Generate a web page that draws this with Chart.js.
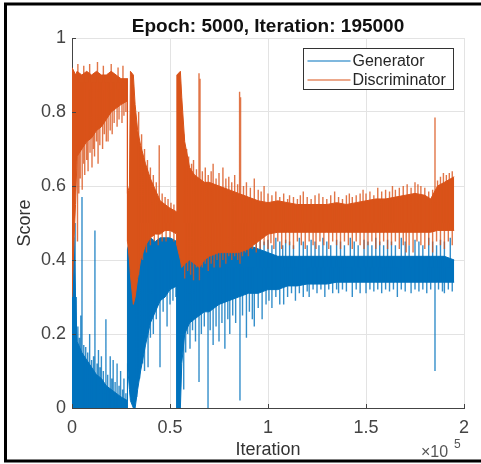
<!DOCTYPE html>
<html>
<head>
<meta charset="utf-8">
<script src="https://cdn.jsdelivr.net/npm/chart.js@4.4.1/dist/chart.umd.min.js"></script>
<style>
  html, body { margin: 0; padding: 0; background: #fff; }
</style>
</head>
<body>
<canvas id="plot" width="481" height="464"></canvas>
<script>
const chartTitle = "Epoch: 5000, Iteration: 195000";
const seriesNames = ["Generator", "Discriminator"];
const seriesColors = ["#0072BD", "#D95319"];
const xTicks = [0, 0.5, 1, 1.5, 2];      // x 10^5
const yTicks = [0, 0.2, 0.4, 0.6, 0.8, 1];

// iteration in thousands where the dense band edges were read off
// (a repeated value marks a sudden jump)
const iterK = [
  0, 1, 1.8, 2.6, 5, 7.5, 10, 12.5, 15, 17.5,
  20, 22.5, 25, 28.3, 28.3, 29.3, 29.8, 31.3, 32.2, 33.5,
  35, 37.5, 40, 42.5, 45, 47.5, 50, 53.5, 53.5, 55.3,
  56, 57.5, 60, 62.5, 65, 67.5, 70, 75, 80, 85,
  90, 95, 100, 105, 110, 115, 120, 125, 130, 135,
  140, 145, 150, 155, 160, 165, 170, 175, 180, 183,
  186.5, 190, 195
];
const discHigh = [
  0.92, 0.91, 0.90, 0.91, 0.90, 0.91, 0.90, 0.91, 0.90, 0.90,
  0.91, 0.90, 0.89, 0.89, 0.58, 0.60, 0.91, 0.90, 0.82, 0.75,
  0.71, 0.66, 0.62, 0.59, 0.56, 0.55, 0.54, 0.53, 0.90, 0.91,
  0.84, 0.72, 0.65, 0.63, 0.62, 0.61, 0.61, 0.60, 0.59, 0.58,
  0.57, 0.56, 0.555, 0.56, 0.555, 0.55, 0.55, 0.55, 0.55, 0.555,
  0.55, 0.555, 0.56, 0.565, 0.565, 0.57, 0.575, 0.58, 0.575, 0.565,
  0.60, 0.61, 0.625
];
const discLow = [
  0.30, 0.45, 0.55, 0.68, 0.70, 0.72, 0.73, 0.75, 0.76, 0.78,
  0.80, 0.81, 0.82, 0.83, 0.45, 0.40, 0.36, 0.28, 0.30, 0.35,
  0.40, 0.44, 0.46, 0.47, 0.47, 0.48, 0.48, 0.47, 0.44, 0.40,
  0.38, 0.39, 0.40, 0.39, 0.38, 0.40, 0.41, 0.42, 0.42, 0.42,
  0.43, 0.45, 0.47, 0.475, 0.475, 0.475, 0.475, 0.475, 0.475, 0.475,
  0.475, 0.475, 0.475, 0.475, 0.475, 0.475, 0.475, 0.475, 0.475, 0.475,
  0.48, 0.48, 0.48
];
const genHigh = [
  0.47, 0.46, 0.30, 0.18, 0.15, 0.13, 0.11, 0.09, 0.08, 0.06,
  0.05, 0.04, 0.03, 0.02, 0.43, 0.45, 0.45, 0.44, 0.45, 0.44,
  0.45, 0.45, 0.46, 0.45, 0.46, 0.46, 0.46, 0.45, 0.44, 0.45,
  0.44, 0.45, 0.45, 0.44, 0.45, 0.44, 0.45, 0.44, 0.45, 0.45,
  0.44, 0.43, 0.42, 0.41, 0.41, 0.41, 0.41, 0.41, 0.41, 0.41,
  0.41, 0.41, 0.41, 0.41, 0.41, 0.41, 0.41, 0.41, 0.41, 0.41,
  0.41, 0.41, 0.40
];
const genLow = [
  0, 0, 0, 0, 0, 0, 0, 0, 0, 0,
  0, 0, 0, 0, 0.12, 0.05, 0.02, 0, 0, 0.05,
  0.10, 0.17, 0.23, 0.26, 0.29, 0.30, 0.32, 0.33, 0, 0,
  0.12, 0.20, 0.23, 0.24, 0.25, 0.26, 0.26, 0.28, 0.29, 0.30,
  0.31, 0.31, 0.32, 0.32, 0.33, 0.33, 0.335, 0.335, 0.335, 0.34,
  0.34, 0.34, 0.34, 0.34, 0.34, 0.34, 0.34, 0.34, 0.34, 0.34,
  0.34, 0.34, 0.34
];

// stray samples sticking out of the bands: [iteration k, from, to]
const discSpikes = [
  // first stretch, streaks below the saturated block
  [2.8, 0.88, 0.45], [3.5, 0.88, 0.58], [4.2, 0.88, 0.62], [5.2, 0.88, 0.59],
  [6, 0.88, 0.66], [6.5, 0.88, 0.63], [7.5, 0.88, 0.67], [8.2, 0.88, 0.64],
  [9.2, 0.88, 0.69], [10.2, 0.88, 0.65], [11, 0.88, 0.70], [11.5, 0.88, 0.68],
  [12.5, 0.88, 0.72], [13.3, 0.88, 0.66], [14.2, 0.88, 0.71], [15.6, 0.88, 0.70],
  [16.5, 0.88, 0.74], [17.5, 0.88, 0.72], [18.4, 0.88, 0.72], [19.5, 0.88, 0.75],
  [20.5, 0.88, 0.74], [21.5, 0.88, 0.77], [23, 0.88, 0.76], [24, 0.88, 0.78],
  [25.5, 0.88, 0.77], [26.5, 0.88, 0.79], [27.5, 0.88, 0.80],
  [3, 0.86, 0.93], [6, 0.86, 0.925], [9, 0.86, 0.93], [13, 0.86, 0.935],
  [16, 0.86, 0.925], [20, 0.86, 0.93], [23.5, 0.86, 0.92], [26, 0.86, 0.925],
  // upper edge after the first collapse
  [34, 0.5, 0.80], [35.5, 0.5, 0.74], [37, 0.5, 0.70], [38.5, 0.5, 0.67],
  [40, 0.5, 0.65], [41.5, 0.5, 0.63], [43, 0.5, 0.61], [44.5, 0.5, 0.71],
  [46, 0.5, 0.58], [47.5, 0.5, 0.57], [49, 0.5, 0.565], [50.5, 0.5, 0.555],
  [52, 0.5, 0.55],
  [57, 0.5, 0.74], [58.5, 0.5, 0.70], [59.5, 0.5, 0.68], [61, 0.5, 0.66],
  [62, 0.5, 0.67], [63.5, 0.5, 0.645], [64.8, 0.5, 0.905], [65.3, 0.5, 0.89],
  [66.5, 0.5, 0.64], [68, 0.5, 0.65], [69.5, 0.5, 0.63], [71, 0.5, 0.64],
  [72, 0.5, 0.66], [73.5, 0.5, 0.62], [75, 0.5, 0.635], [77, 0.5, 0.65],
  [78.5, 0.5, 0.62], [80, 0.5, 0.625], [81.5, 0.5, 0.61], [83, 0.5, 0.63],
  [84.5, 0.5, 0.605], [85.5, 0.5, 0.855], [86, 0.5, 0.84], [87.5, 0.5, 0.60],
  [89, 0.5, 0.61], [91, 0.5, 0.595], [93, 0.5, 0.62], [95, 0.5, 0.59],
  [96.5, 0.5, 0.585], [98, 0.5, 0.60], [100, 0.5, 0.58], [102, 0.5, 0.575],
  [104, 0.5, 0.585], [106, 0.5, 0.57], [108, 0.5, 0.58], [110, 0.5, 0.565],
  [111, 0.5, 0.575], [113, 0.5, 0.57], [115, 0.5, 0.565], [116.5, 0.5, 0.575],
  [118, 0.5, 0.585], [120, 0.5, 0.57], [122, 0.5, 0.565], [124, 0.5, 0.575],
  [126, 0.5, 0.58], [128, 0.5, 0.57], [130, 0.5, 0.565], [132, 0.5, 0.575],
  [134, 0.5, 0.585], [136, 0.5, 0.57], [138, 0.5, 0.565], [140, 0.5, 0.575],
  [141.5, 0.5, 0.58], [143, 0.5, 0.57], [145, 0.5, 0.575], [147, 0.5, 0.58],
  [148.5, 0.5, 0.59], [150, 0.5, 0.58], [152, 0.5, 0.585], [154, 0.5, 0.575],
  [156, 0.5, 0.595], [158, 0.5, 0.585], [160, 0.5, 0.59], [162, 0.5, 0.585],
  [163.5, 0.5, 0.60], [165, 0.5, 0.59], [167, 0.5, 0.595], [169, 0.5, 0.60],
  [171, 0.5, 0.605], [173, 0.5, 0.595], [175, 0.5, 0.61], [176.5, 0.5, 0.605],
  [178, 0.5, 0.60], [180, 0.5, 0.595], [182, 0.5, 0.585], [184, 0.5, 0.59],
  [185.2, 0.5, 0.785], [186.5, 0.5, 0.615], [188, 0.5, 0.625], [189.5, 0.5, 0.635],
  [191, 0.5, 0.63], [192.5, 0.5, 0.635], [194, 0.5, 0.64],
  // lower edge
  [34, 0.5, 0.36], [36, 0.5, 0.40], [38, 0.5, 0.42], [40, 0.5, 0.44],
  [42, 0.5, 0.45], [44, 0.5, 0.44], [46, 0.5, 0.45], [48, 0.5, 0.45],
  [50, 0.5, 0.46], [52, 0.5, 0.45],
  [57.5, 0.5, 0.35], [59, 0.5, 0.37], [60.5, 0.5, 0.36], [62, 0.5, 0.345],
  [63.5, 0.5, 0.38], [65, 0.5, 0.345], [66.5, 0.5, 0.38], [68, 0.5, 0.39],
  [69.5, 0.5, 0.37], [71, 0.5, 0.39], [72.5, 0.5, 0.38], [74, 0.5, 0.40],
  [75.5, 0.5, 0.38], [77, 0.5, 0.40], [78.5, 0.5, 0.39], [80, 0.5, 0.41],
  [81.5, 0.5, 0.40], [83, 0.5, 0.41], [84.5, 0.5, 0.40], [85.7, 0.5, 0.39],
  [87, 0.5, 0.41], [88.5, 0.5, 0.42], [90, 0.5, 0.41], [92, 0.5, 0.43],
  [94, 0.5, 0.42], [96, 0.5, 0.43], [98, 0.5, 0.44], [100, 0.5, 0.43],
  [101.5, 0.5, 0.445], [103, 0.5, 0.43], [105, 0.5, 0.45], [107, 0.5, 0.43],
  [109, 0.5, 0.445], [111, 0.5, 0.44], [113, 0.5, 0.43], [115, 0.5, 0.45],
  [117, 0.5, 0.44], [119, 0.5, 0.43], [121, 0.5, 0.45], [123, 0.5, 0.44],
  [124.5, 0.5, 0.43], [126.5, 0.5, 0.45], [128.5, 0.5, 0.44], [131, 0.5, 0.43],
  [133, 0.5, 0.45], [135, 0.5, 0.44], [137, 0.5, 0.43], [139, 0.5, 0.45],
  [141, 0.5, 0.44], [143, 0.5, 0.43], [145, 0.5, 0.45], [147, 0.5, 0.44],
  [149, 0.5, 0.43], [151, 0.5, 0.44], [153, 0.5, 0.45], [155, 0.5, 0.43],
  [157, 0.5, 0.44], [159, 0.5, 0.45], [161, 0.5, 0.43], [163, 0.5, 0.44],
  [165, 0.5, 0.45], [167, 0.5, 0.43], [169, 0.5, 0.44], [170.5, 0.5, 0.42],
  [172, 0.5, 0.44], [174, 0.5, 0.42], [176, 0.5, 0.45], [178, 0.5, 0.44],
  [180, 0.5, 0.43], [182, 0.5, 0.44], [184, 0.5, 0.42], [186, 0.5, 0.45],
  [188, 0.5, 0.44], [190, 0.5, 0.43], [192, 0.5, 0.45], [194, 0.5, 0.44]
];
const genSpikes = [
  // first stretch, rising out of the floor
  [1.6, 0, 0.50], [2.2, 0, 0.30], [3, 0, 0.22], [3.8, 0, 0.19],
  [4.5, 0, 0.25], [5.1, 0, 0.57], [6, 0, 0.17], [7, 0, 0.165],
  [8, 0, 0.15], [9, 0, 0.20], [10, 0, 0.13], [11, 0, 0.14],
  [11.7, 0, 0.48], [12.8, 0, 0.12], [13.5, 0, 0.157], [14.3, 0, 0.11],
  [15, 0, 0.14], [16, 0, 0.10], [17.3, 0, 0.24], [18.2, 0, 0.09],
  [19.5, 0, 0.14], [20.3, 0, 0.08], [21, 0, 0.13], [22, 0, 0.07],
  [23, 0, 0.12], [24, 0, 0.06], [24.8, 0, 0.10], [25.8, 0, 0.05],
  [26.5, 0, 0.08], [27.5, 0, 0.04],
  // lower edge
  [33, 0.4, 0.03], [34.5, 0.4, 0.08], [36, 0.4, 0.12], [37, 0.4, 0.10],
  [38.8, 0.4, 0.11], [40, 0.4, 0.19], [41.5, 0.4, 0.20], [43, 0.4, 0.24],
  [44.9, 0.4, 0.11], [46.5, 0.4, 0.26], [48.5, 0.4, 0.22], [50, 0.4, 0.28],
  [51.5, 0.4, 0.29], [53, 0.4, 0.30],
  [57, 0.38, 0.05], [58, 0.38, 0.15], [59, 0.38, 0.20], [60.2, 0.38, 0.16],
  [61.5, 0.38, 0.21], [63, 0.38, 0.18], [64.8, 0.38, 0.07], [66, 0.38, 0.20],
  [67.5, 0.38, 0.22], [69.4, 0.38, 0], [70.5, 0.38, 0.21], [72, 0.38, 0.17],
  [73.5, 0.38, 0.22], [75, 0.38, 0.18], [76.5, 0.38, 0.23], [78, 0.38, 0.16],
  [79.5, 0.38, 0.24], [80.5, 0.38, 0.20], [82, 0.38, 0.25], [83.5, 0.38, 0.23],
  [85.7, 0.38, 0.02], [87, 0.38, 0.25], [89, 0.38, 0.19], [90.5, 0.38, 0.26],
  [92, 0.38, 0.24], [93, 0.38, 0.22], [95, 0.38, 0.27], [97, 0.38, 0.24],
  [99, 0.38, 0.28], [100.5, 0.38, 0.29], [102, 0.38, 0.27], [104, 0.38, 0.30],
  [106, 0.38, 0.28], [108, 0.38, 0.28], [110, 0.38, 0.30], [112, 0.38, 0.31],
  [114, 0.38, 0.29], [116, 0.38, 0.31], [118, 0.38, 0.30], [120, 0.38, 0.315],
  [121, 0.38, 0.30], [123, 0.38, 0.32], [125, 0.38, 0.31], [127, 0.38, 0.32],
  [129, 0.38, 0.30], [131, 0.38, 0.32], [133, 0.38, 0.31], [135, 0.38, 0.32],
  [136, 0.38, 0.31], [138, 0.38, 0.32], [140, 0.38, 0.315], [143, 0.38, 0.30],
  [145, 0.38, 0.32], [147, 0.38, 0.31], [150, 0.38, 0.31], [152, 0.38, 0.32],
  [154, 0.38, 0.315], [156, 0.38, 0.32], [158, 0.38, 0.31], [160, 0.38, 0.32],
  [162, 0.38, 0.315], [164, 0.38, 0.32], [166, 0.38, 0.30], [168, 0.38, 0.32],
  [170, 0.38, 0.315], [173, 0.38, 0.31], [175, 0.38, 0.32], [177, 0.38, 0.315],
  [179, 0.38, 0.32], [181, 0.38, 0.31], [183, 0.38, 0.32], [185.2, 0.38, 0.10],
  [187, 0.38, 0.32], [189, 0.38, 0.315], [190, 0.38, 0.31], [192, 0.38, 0.32],
  [194, 0.38, 0.315],
  // upper edge, poking into the gap
  [94, 0.38, 0.45], [96, 0.38, 0.46], [98, 0.38, 0.45], [100, 0.38, 0.455],
  [102, 0.38, 0.44], [104, 0.38, 0.46], [106, 0.38, 0.45], [107.5, 0.38, 0.44],
  [109, 0.38, 0.455], [111, 0.38, 0.45], [113, 0.38, 0.44], [116, 0.38, 0.46],
  [118, 0.38, 0.45], [120, 0.38, 0.44], [122, 0.38, 0.455], [124, 0.38, 0.45],
  [126, 0.38, 0.44], [128, 0.38, 0.46], [130, 0.38, 0.45], [132, 0.38, 0.44],
  [135, 0.38, 0.455], [137, 0.38, 0.45], [139, 0.38, 0.44], [142, 0.38, 0.46],
  [144, 0.38, 0.45], [146, 0.38, 0.44], [149, 0.38, 0.455], [151, 0.38, 0.45],
  [153, 0.38, 0.44], [155, 0.38, 0.46], [157, 0.38, 0.45], [159, 0.38, 0.44],
  [161, 0.38, 0.455], [163, 0.38, 0.45], [165, 0.38, 0.44], [168, 0.38, 0.46],
  [170, 0.38, 0.45], [172, 0.38, 0.44], [175, 0.38, 0.455], [177, 0.38, 0.45],
  [179, 0.38, 0.44], [182, 0.38, 0.46], [184, 0.38, 0.45], [186, 0.38, 0.44],
  [188, 0.38, 0.455], [190, 0.38, 0.45], [193, 0.38, 0.46]
];

const FONT = '"Liberation Sans", Arial, Helvetica, sans-serif';
Chart.defaults.font.family = FONT;

function band(values) {
  return iterK.map((k, i) => ({ x: k * 1000, y: values[i] }));
}

function spikePoints(list) {
  const pts = [];
  list.forEach(([k, a, b]) => {
    pts.push({ x: k * 1000, y: a }, { x: k * 1000, y: b }, { x: k * 1000, y: null });
  });
  return pts;
}

function lineSet(data, color, order, extra) {
  return Object.assign({
    data: data,
    borderColor: color,
    backgroundColor: color,
    borderWidth: 1,
    pointRadius: 0,
    tension: 0,
    order: order,
    fill: false,
  }, extra || {});
}

// title, legend box, exponent and the outer frame
const matlabDecor = {
  id: "matlabDecor",
  afterDraw(chart) {
    const ctx = chart.ctx;
    const area = chart.chartArea;
    ctx.save();

    ctx.fillStyle = "#111";
    ctx.font = "bold 19px " + FONT;
    ctx.textAlign = "center";
    ctx.textBaseline = "alphabetic";
    ctx.fillText(chartTitle, (area.left + area.right) / 2, 32);

    // inward tick marks
    ctx.strokeStyle = "#444";
    ctx.lineWidth = 1;
    const xs = chart.scales.x, ys = chart.scales.y;
    xTicks.forEach((t) => {
      const px = Math.round(xs.getPixelForValue(t * 1e5)) + 0.5;
      ctx.beginPath();
      ctx.moveTo(px, area.bottom);
      ctx.lineTo(px, area.bottom - 4);
      ctx.stroke();
    });
    yTicks.forEach((t) => {
      const py = Math.round(ys.getPixelForValue(t)) + 0.5;
      ctx.beginPath();
      ctx.moveTo(area.left, py);
      ctx.lineTo(area.left + 4, py);
      ctx.stroke();
    });

    // legend
    const lx = 303.5, ly = 48.5, lw = 150, lh = 41;
    ctx.fillStyle = "#fff";
    ctx.fillRect(lx, ly, lw, lh);
    ctx.strokeStyle = "#333";
    ctx.strokeRect(lx, ly, lw, lh);
    ctx.font = "16px " + FONT;
    ctx.textAlign = "left";
    ctx.textBaseline = "middle";
    seriesNames.forEach((name, i) => {
      const y = ly + 12.5 + i * 19;
      ctx.strokeStyle = seriesColors[i];
      ctx.lineWidth = 1.2;
      ctx.beginPath();
      ctx.moveTo(lx + 4, y);
      ctx.lineTo(lx + 47, y);
      ctx.stroke();
      ctx.fillStyle = "#262626";
      ctx.fillText(name, lx + 49, y + 1);
    });

    // x10^5 exponent
    ctx.fillStyle = "#555";
    ctx.textBaseline = "alphabetic";
    ctx.font = "16px " + FONT;
    ctx.fillText("\u00d710", 421, 457);
    ctx.font = "12px " + FONT;
    ctx.fillText("5", 454, 448);

    // frame around the figure
    ctx.strokeStyle = "#000";
    ctx.lineWidth = 3;
    ctx.beginPath();
    ctx.moveTo(481, 4);
    ctx.lineTo(5.5, 4);
    ctx.lineTo(5.5, 461);
    ctx.lineTo(481, 461);
    ctx.stroke();
    ctx.restore();
  },
};

const orange = seriesColors[1], blue = seriesColors[0];

new Chart(document.getElementById("plot"), {
  type: "line",
  data: {
    datasets: [
      lineSet(spikePoints(discSpikes), "rgba(217,83,25,0.8)", 0, { spanGaps: false, borderWidth: 1.4 }),
      lineSet(band(discHigh), orange, 1),
      lineSet(band(discLow), orange, 1, { fill: "-1" }),
      lineSet(spikePoints(genSpikes), "rgba(0,114,189,0.8)", 2, { spanGaps: false, borderWidth: 1.4 }),
      lineSet(band(genHigh), blue, 3),
      lineSet(band(genLow), blue, 3, { fill: "-1" }),
    ],
  },
  options: {
    responsive: false,
    animation: false,
    devicePixelRatio: 1,
    layout: { padding: { left: 0, right: 17, top: 38, bottom: 0 } },
    plugins: {
      legend: { display: false },
      tooltip: { enabled: false },
    },
    scales: {
      x: {
        type: "linear",
        min: 0,
        max: 200000,
        afterFit: (s) => { s.height = 56; },
        afterBuildTicks: (s) => { s.ticks = xTicks.map((v) => ({ value: v * 1e5 })); },
        ticks: {
          padding: 9,
          color: "#444",
          font: { size: 18 },
          maxRotation: 0,
          callback: (v) => String(Math.round(v / 1e4) / 10),
        },
        grid: { color: "#e3e3e3", drawTicks: false },
        border: { color: "#444", width: 1 },
        title: { display: true, text: "Iteration", color: "#333", font: { size: 18 }, padding: { top: 0, bottom: 3 } },
      },
      y: {
        min: 0,
        max: 1,
        afterFit: (s) => { s.width = 72; },
        afterBuildTicks: (s) => { s.ticks = yTicks.map((v) => ({ value: v })); },
        ticks: {
          padding: 6,
          color: "#444",
          font: { size: 18 },
          callback: (v) => String(Math.round(v * 10) / 10),
        },
        grid: { color: "#e3e3e3", drawTicks: false },
        border: { color: "#444", width: 1 },
        title: { display: true, text: "Score", color: "#333", font: { size: 18 }, padding: { top: 14, bottom: 0 } },
      },
    },
  },
  plugins: [matlabDecor],
});
</script>
</body>
</html>
